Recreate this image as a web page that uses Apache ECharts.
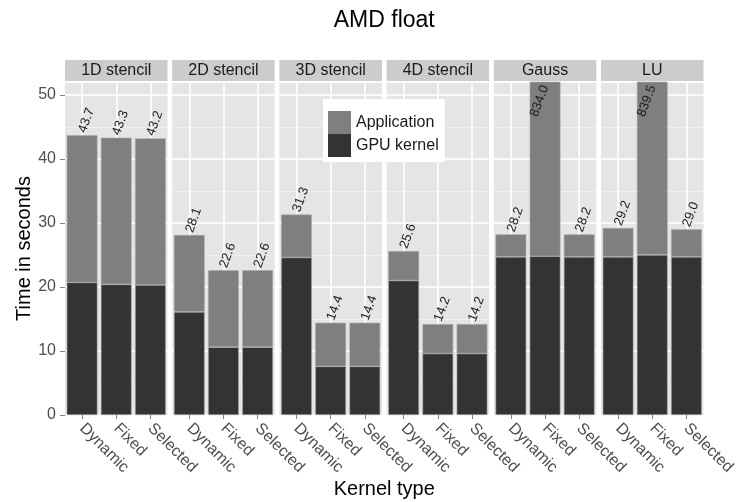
<!DOCTYPE html>
<html>
<head>
<meta charset="utf-8">
<title>AMD float</title>
<script src="https://cdn.jsdelivr.net/npm/echarts@6/dist/echarts.min.js"></script>
<style>
  html, body { margin: 0; padding: 0; background: #ffffff; }
  #chart { width: 737px; height: 502px; }
</style>
</head>
<body>
<div id="chart"></div>
<script>
// Benchmarks (one facet each) and kernel selection strategies (bars within a facet)
const panels = ['1D stencil', '2D stencil', '3D stencil', '4D stencil', 'Gauss', 'LU'];
const kernelTypes = ['Dynamic', 'Fixed', 'Selected'];

// Total application time in seconds, per benchmark and kernel type
const totalTime = [
  [43.7, 43.3, 43.2],
  [28.1, 22.6, 22.6],
  [31.3, 14.4, 14.4],
  [25.6, 14.2, 14.2],
  [28.2, 834.0, 28.2],
  [29.2, 839.5, 29.0]
];

// Time spent inside the GPU kernel, per benchmark and kernel type
const kernelTime = [
  [20.7, 20.4, 20.3],
  [16.1, 10.6, 10.6],
  [24.6, 7.6, 7.6],
  [21.0, 9.6, 9.6],
  [24.7, 24.8, 24.7],
  [24.7, 25.0, 24.7]
];

const yMax = 52;
const yStep = 10;

// ---- layout & style ----
const FONT = '"Liberation Sans", Arial, Helvetica, sans-serif';
const plotLeft = 65, plotStep = 107.2, plotWidth = 102.5;
const plotTop = 82, plotHeight = 333;
const stripTop = 60, stripHeight = 21;
const colApp = '#7f7f7f', colKernel = '#333333';
const panelBg = '#e5e5e5', stripBg = '#cccccc';

const grids = [], xAxes = [], yAxes = [], series = [], graphics = [];

panels.forEach((panel, i) => {
  const left = plotLeft + i * plotStep;

  grids.push({
    left: left, top: plotTop, width: plotWidth, height: plotHeight,
    show: true, backgroundColor: panelBg, borderWidth: 0,
    containLabel: false, outerBoundsMode: 'none'
  });

  xAxes.push({
    gridIndex: i, type: 'category', data: kernelTypes,
    axisLine: { show: false },
    axisTick: { show: true, alignWithLabel: true, length: 4, lineStyle: { color: '#7f7f7f' } },
    axisLabel: { rotate: -45, margin: 11, fontSize: 16, color: '#4d4d4d', fontFamily: FONT, interval: 0 },
    splitLine: { show: true, alignWithLabel: true, lineStyle: { color: '#ffffff', width: 1.6 } }
  });

  yAxes.push({
    gridIndex: i, type: 'value', min: 0, max: yMax, interval: yStep,
    axisLine: { show: false },
    axisTick: { show: i === 0, length: 5, lineStyle: { color: '#7f7f7f' } },
    axisLabel: { show: i === 0, showMaxLabel: false, margin: 9, fontSize: 16, color: '#4d4d4d', fontFamily: FONT },
    splitLine: { show: true, lineStyle: { color: '#ffffff', width: 1.6 } },
    minorTick: { show: false, splitNumber: 2 },
    minorSplitLine: { show: true, lineStyle: { color: '#f2f2f2', width: 0.8 } },
    name: i === 0 ? 'Time in seconds' : '',
    nameLocation: 'middle', nameGap: 27, nameRotate: 90,
    nameTextStyle: { fontSize: 20, color: '#000000', fontFamily: FONT }
  });

  const stack = 'total' + i;
  const barStyle = (c) => ({ color: c, borderColor: '#a8a8a8', borderWidth: 0.6 });

  series.push({
    name: 'GPU kernel', type: 'bar', stack: stack,
    xAxisIndex: i, yAxisIndex: i, barWidth: '90%',
    itemStyle: barStyle(colKernel),
    data: kernelTime[i].slice(),
    z: 3
  });

  series.push({
    name: 'Application', type: 'bar', stack: stack,
    xAxisIndex: i, yAxisIndex: i, barWidth: '90%',
    itemStyle: barStyle(colApp),
    label: {
      show: true, position: 'top', distance: 3, rotate: 70,
      align: 'left', verticalAlign: 'middle',
      fontSize: 13, color: '#1a1a1a', fontFamily: FONT,
      formatter: (p) => totalTime[i][p.dataIndex].toFixed(1)
    },
    data: totalTime[i].map((t, j) => {
      const v = +(t - kernelTime[i][j]).toFixed(2);
      // bars running past the top of the panel carry their label inside
      if (t > yMax) {
        return { value: v, label: { position: 'insideTop', align: 'right', distance: 4 } };
      }
      return v;
    }),
    z: 3
  });

  // facet strip
  graphics.push({
    type: 'rect', silent: true,
    shape: { x: left, y: stripTop, width: plotWidth, height: stripHeight },
    style: { fill: stripBg }
  });
  graphics.push({
    type: 'text', silent: true,
    x: left + plotWidth / 2, y: stripTop + stripHeight / 2 + 0.5,
    style: { text: panel, fill: '#1a1a1a', font: '16px ' + FONT, align: 'center', verticalAlign: 'middle' }
  });
});

const plotsCenter = plotLeft + (plotStep * (panels.length - 1) + plotWidth) / 2;

graphics.push({
  type: 'text', silent: true, x: plotsCenter, y: 21,
  style: { text: 'AMD float', fill: '#000000', font: '23px ' + FONT, align: 'center', verticalAlign: 'middle' }
});
graphics.push({
  type: 'text', silent: true, x: plotsCenter, y: 489,
  style: { text: 'Kernel type', fill: '#000000', font: '20px ' + FONT, align: 'center', verticalAlign: 'middle' }
});

const chart = echarts.init(document.getElementById('chart'), null, { renderer: 'canvas' });
chart.setOption({
  animation: false,
  backgroundColor: '#ffffff',
  grid: grids,
  xAxis: xAxes,
  yAxis: yAxes,
  series: series,
  graphic: graphics,
  legend: {
    data: ['Application', 'GPU kernel'],
    orient: 'vertical', left: 323, top: 99,
    itemWidth: 23, itemHeight: 23, itemGap: 0,
    padding: [12, 6, 5, 5],
    backgroundColor: '#ffffff',
    icon: 'rect',
    itemStyle: { borderWidth: 0 },
    textStyle: { fontSize: 16, color: '#1a1a1a', fontFamily: FONT },
    selectedMode: false
  }
});
</script>
</body>
</html>
